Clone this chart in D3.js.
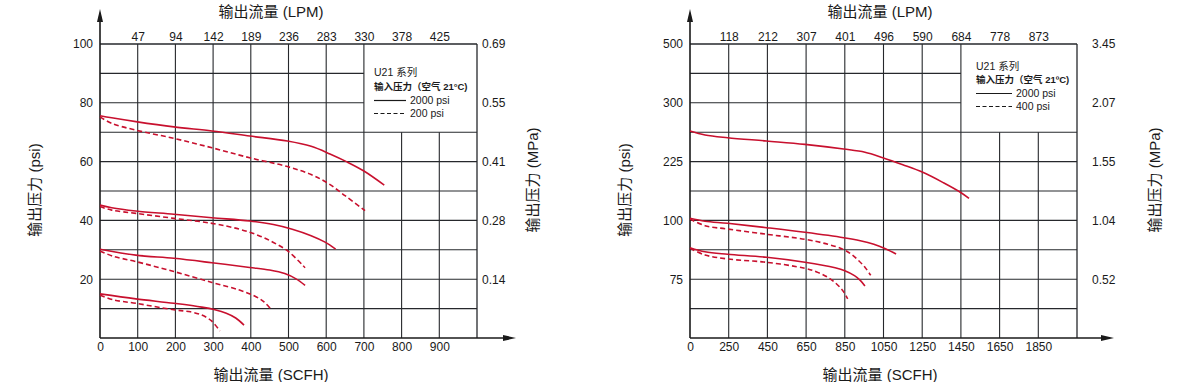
<!DOCTYPE html>
<html><head><meta charset="utf-8">
<script src="https://cdn.jsdelivr.net/npm/d3@7"></script>
<style>
html,body{margin:0;padding:0;background:#fff;}
svg text{font-family:"Liberation Sans",Arial,"Noto Sans CJK SC",sans-serif;fill:#1a1a1a;}
</style></head>
<body><svg id="c" width="1191" height="382"></svg>
<script>
// ---------- LEFT PANEL DATA ----------
const leftScfhTicks = [0,100,200,300,400,500,600,700,800,900];
const leftLpmTicks = [100,200,300,400,500,600,700,800,900];
const leftLpmLabels = ["47","94","142","189","236","283","330","378","425"];
const leftPsiTicks = [20,40,60,80,100];
const leftPsiLabels = ["20","40","60","80","100"];
const leftMpaLabels = ["0.14","0.28","0.41","0.55","0.69"];
const leftGridX = [100,200,300,400,500,600,700,800,900];
const leftGridY = [10,20,30,40,50,60,70,80,90];
const leftSolid1 = [[0,75.6],[31,74.9],[95,73.6],[196,71.8],[297,70.4],[397,68.7],[497,67],[560,65.2],[610,62.6],[655,59.9],[700,56.8],[754,52]];
const leftDash1  = [[0,75.2],[31,73],[95,70.7],[196,67.9],[297,64.7],[397,61.3],[497,58.3],[560,55.6],[605,52.6],[650,48.4],[703,43.3]];
const leftSolid2 = [[0,45.2],[31,44.3],[95,43.2],[196,42.1],[297,40.9],[397,39.8],[460,38.6],[510,37],[560,34.8],[597,32.6],[625,30.2]];
const leftDash2  = [[0,44.7],[31,43.5],[95,42.4],[196,40.7],[297,39],[370,37],[420,34.9],[460,32.5],[500,29.4],[544,23.9]];
const leftSolid3 = [[0,30.2],[95,28.2],[196,27.1],[297,25.6],[397,24],[450,23.1],[490,21.9],[520,20.1],[544,17.9]];
const leftDash3  = [[0,29.6],[35,27.8],[95,26],[196,22.6],[297,18.9],[370,16.3],[410,14.3],[435,12.3],[455,9.5]];
const leftSolid4 = [[0,15],[95,13.3],[196,11.8],[270,10.5],[305,9.6],[335,8.4],[360,6.8],[382,4.4]];
const leftDash4  = [[0,14.6],[35,13],[95,11.8],[196,9.6],[240,8.9],[270,7.8],[295,5.9],[318,2.4]];
const leftLegend = ["U21 系列","输入压力（空气 21°C)","2000 psi","200 psi"];

// ---------- RIGHT PANEL DATA ----------
const rightScfhTicks = [0,250,450,650,850,1050,1250,1450,1650,1850];
const rightScfhLabels = ["0","250","450","650","850","1050","1250","1450","1650","1850"];
const rightLpmTicks = [250,450,650,850,1050,1250,1450,1650,1850];
const rightLpmLabels = ["118","212","307","401","496","590","684","778","873"];
const rightPsiTicks = [75,150,225,300,500];
const rightPsiLabels = ["75","100","225","300","500"];
const rightMpaLabels = ["0.52","1.04","1.55","2.07","3.45"];
const rightGridX = [250,450,650,850,1050,1250,1450,1650,1850];
const rightGridY = [37.5,75,112.5,150,187.5,225,262.5,300,400];
const rightSolid1 = [[0,264],[97,259],[243,255.5],[446,251.3],[644,247],[844,241],[954,236.9],[1046,230],[1150,221],[1253,211.3],[1360,198],[1451,185.3],[1492,178]];
const rightSolid2 = [[0,152.7],[97,149],[243,146.3],[446,140.7],[644,134.8],[844,127.9],[930,124],[1000,119.5],[1060,113.8],[1115,107.1]];
const rightDash2  = [[0,151.8],[97,143.2],[243,139],[446,132.3],[644,125.9],[763,119.5],[844,112.8],[885,106.5],[920,99],[955,90],[984,80]];
const rightSolid3 = [[0,115.2],[97,110],[243,106.8],[446,102.9],[644,96.6],[800,89.5],[850,85.8],[900,79.5],[930,73.5],[954,66.3]];
const rightDash3  = [[0,114.4],[97,105.9],[243,100.8],[446,96.6],[644,88.9],[705,84.3],[760,77.8],[805,69.5],[838,61],[865,50]];
const rightLegend = ["U21 系列","输入压力（空气 21ºC)","2000 psi","400 psi"];

const RED = "#c8102e", GRID = "#26282c";
const svg = d3.select("#c");
svg.append("rect").attr("width",1191).attr("height",382).attr("fill","#fff");

function drawPanel(cfg){
  const {x, y, xMax, yMax, legX, legY} = cfg;
  const g = svg.append("g");
  const x0 = x(0), x1 = x(xMax), y0 = y(0), y1 = y(yMax);
  // grid
  g.selectAll(".gx").data(cfg.gridX).join("line")
    .attr("x1",d=>x(d)).attr("x2",d=>x(d))
    .attr("y1",y0).attr("y2",d=> d>legX ? y(legY) : y1)
    .attr("stroke",GRID).attr("stroke-width",1.1);
  g.selectAll(".gy").data(cfg.gridY).join("line")
    .attr("y1",d=>y(d)).attr("y2",d=>y(d))
    .attr("x1",x0).attr("x2",d=> d>legY ? x(legX) : x1)
    .attr("stroke",GRID).attr("stroke-width",1.1);
  // top line and right border
  g.append("line").attr("x1",x0).attr("x2",x1).attr("y1",y1).attr("y2",y1).attr("stroke",GRID).attr("stroke-width",1.3);
  g.append("line").attr("x1",x1).attr("x2",x1).attr("y1",y1).attr("y2",y0).attr("stroke",GRID).attr("stroke-width",1.3);
  // axes lines with arrows
  g.append("line").attr("x1",x0).attr("x2",x0).attr("y1",y0).attr("y2",20).attr("stroke","#1a1a1a").attr("stroke-width",1.6);
  g.append("path").attr("d",`M${x0},9 L${x0-3},22 L${x0+3},22 Z`).attr("fill","#1a1a1a");
  g.append("line").attr("x1",x0).attr("x2",cfg.arrowX-10).attr("y1",y0).attr("y2",y0).attr("stroke","#1a1a1a").attr("stroke-width",1.6);
  g.append("path").attr("d",`M${cfg.arrowX},${y0} L${cfg.arrowX-13},${y0-3} L${cfg.arrowX-13},${y0+3} Z`).attr("fill","#1a1a1a");

  // axes labels via d3 axes
  const styleAxis = sel => { sel.select(".domain").remove(); sel.selectAll(".tick line").remove();
    sel.selectAll("text").attr("font-size",12).attr("fill","#1a1a1a").style("font-family",'"Liberation Sans",Arial,sans-serif'); };
  g.append("g").attr("transform",`translate(0,${y0})`)
    .call(d3.axisBottom(x).tickValues(cfg.scfhTicks).tickFormat((d,i)=>cfg.scfhLabels[i]).tickSize(0).tickPadding(4))
    .call(styleAxis);
  g.append("g").attr("transform",`translate(0,${y1})`)
    .call(d3.axisTop(x).tickValues(cfg.lpmTicks).tickFormat((d,i)=>cfg.lpmLabels[i]).tickSize(0).tickPadding(3))
    .call(styleAxis);
  g.append("g").attr("transform",`translate(${x0},0)`)
    .call(d3.axisLeft(y).tickValues(cfg.psiTicks).tickFormat((d,i)=>cfg.psiLabels[i]).tickSize(0).tickPadding(7))
    .call(styleAxis);
  g.append("g").attr("transform",`translate(${x1},0)`)
    .call(d3.axisRight(y).tickValues(cfg.psiTicks).tickFormat((d,i)=>cfg.mpaLabels[i]).tickSize(0).tickPadding(cfg.rightPad))
    .call(styleAxis);

  // titles
  g.append("text").attr("x",cfg.titleCx).attr("y",17).attr("text-anchor","middle").attr("font-size",15).text("输出流量 (LPM)");
  g.append("text").attr("x",cfg.titleCx).attr("y",380).attr("text-anchor","middle").attr("font-size",15).text("输出流量 (SCFH)");
  g.append("text").attr("transform",`translate(${cfg.leftTitleX},190) rotate(-90)`).attr("text-anchor","middle").attr("font-size",15).text("输出压力 (psi)");
  g.append("text").attr("transform",`translate(${cfg.rightTitleX},180) rotate(-90)`).attr("text-anchor","middle").attr("font-size",15).text("输出压力 (MPa)");

  // curves
  const line = d3.line().x(d=>x(d[0])).y(d=>y(d[1])).curve(d3.curveCatmullRom.alpha(0.5));
  cfg.series.forEach(s=>{
    g.append("path").attr("d",line(s.data)).attr("fill","none").attr("stroke",RED)
      .attr("stroke-width",1.6).attr("stroke-dasharray",s.dash?"5,3":null);
  });

  // legend
  const L = cfg.legend, lx = cfg.legTextX, ly = cfg.legTextY;
  g.append("text").attr("x",lx).attr("y",ly[0]).attr("font-size",10.5).text(L[0]);
  g.append("text").attr("x",lx).attr("y",ly[1]).attr("font-size",9.5).attr("font-weight","bold").text(L[1]);
  [[L[2],false,ly[2]],[L[3],true,ly[3]]].forEach(([t,dash,yy])=>{
    g.append("line").attr("x1",lx).attr("x2",lx+cfg.legLineW).attr("y1",yy-3.5).attr("y2",yy-3.5)
      .attr("stroke","#1a1a1a").attr("stroke-width",1.2).attr("stroke-dasharray",dash?"4,2.5":null);
    g.append("text").attr("x",lx+cfg.legLineW+4).attr("y",yy).attr("font-size",10.5).text(t);
  });
}

drawPanel({
  x: d3.scaleLinear().domain([0,1000]).range([100,477]),
  y: d3.scaleLinear().domain([0,100]).range([338,44]),
  xMax:1000, yMax:100, legX:700, legY:70, arrowX:516,
  gridX:leftGridX, gridY:leftGridY,
  scfhTicks:leftScfhTicks, scfhLabels:leftScfhTicks.map(String),
  lpmTicks:leftLpmTicks, lpmLabels:leftLpmLabels,
  psiTicks:leftPsiTicks, psiLabels:leftPsiLabels, mpaLabels:leftMpaLabels, rightPad:5,
  titleCx:271, leftTitleX:40, rightTitleX:538,
  series:[{data:leftSolid1},{data:leftDash1,dash:true},{data:leftSolid2},{data:leftDash2,dash:true},
          {data:leftSolid3},{data:leftDash3,dash:true},{data:leftSolid4},{data:leftDash4,dash:true}],
  legend:leftLegend, legTextX:374, legTextY:[76,90,104,117], legLineW:32
});

drawPanel({
  x: d3.scaleLinear().domain([0,250,2050]).range([690,728.7,1077]),
  y: d3.scaleLinear().domain([0,300,500]).range([338,102.8,44]),
  xMax:2050, yMax:500, legX:1450, legY:262.5, arrowX:1114,
  gridX:rightGridX, gridY:rightGridY,
  scfhTicks:rightScfhTicks, scfhLabels:rightScfhLabels,
  lpmTicks:rightLpmTicks, lpmLabels:rightLpmLabels,
  psiTicks:rightPsiTicks, psiLabels:rightPsiLabels, mpaLabels:rightMpaLabels, rightPad:15,
  titleCx:880, leftTitleX:630, rightTitleX:1160,
  series:[{data:rightSolid1},{data:rightSolid2},{data:rightDash2,dash:true},{data:rightSolid3},{data:rightDash3,dash:true}],
  legend:rightLegend, legTextX:976, legTextY:[70,83,97,110], legLineW:36
});
</script></body></html>
